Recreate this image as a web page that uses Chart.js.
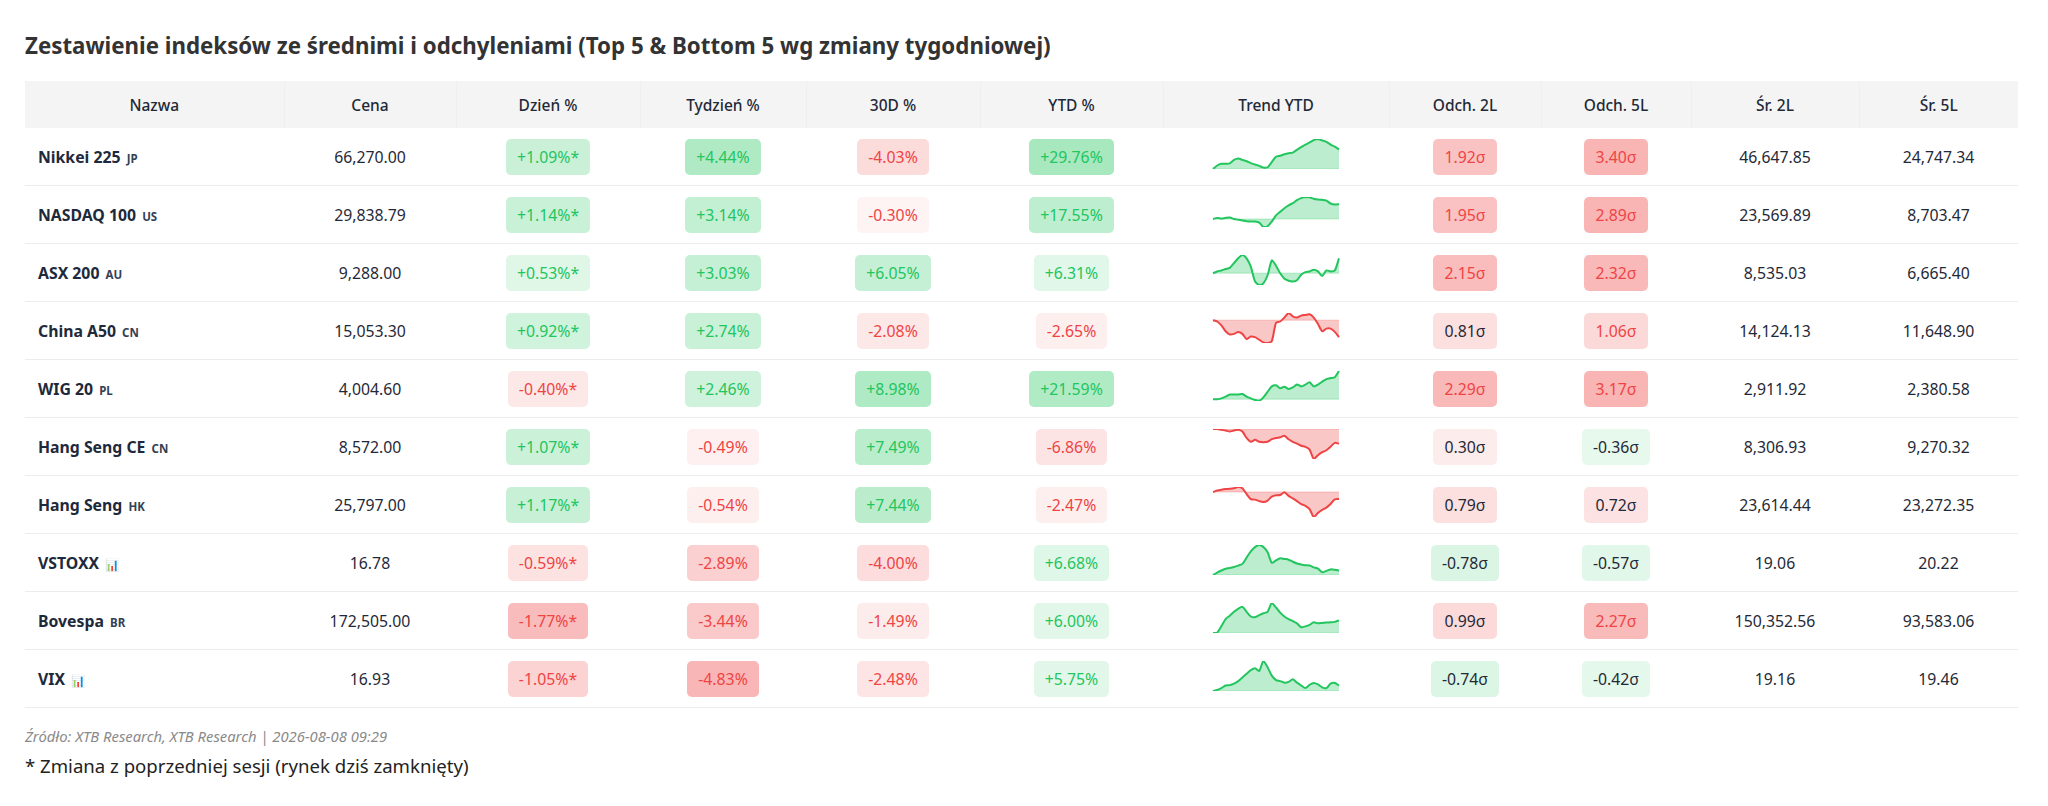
<!DOCTYPE html>
<html lang="pl">
<head>
<meta charset="utf-8">
<title>Zestawienie indeksów</title>
<script src="https://cdn.jsdelivr.net/npm/chart.js@4.4.1/dist/chart.umd.min.js"></script>
<style>
  html, body { margin: 0; background: #fff; }
  body { font-family: 'Segoe UI', 'Noto Sans', sans-serif; color: #1f2937; width: 2048px; }
  .wrap { padding: 31px 30px 0 25px; }
  h1 { margin: 0 0 20px 0; font-size: 22.3px; line-height: 30px; font-weight: 700; color: #333; }
  table { border-collapse: collapse; table-layout: fixed; width: 1993px; }
  th { background: #f4f4f4; height: 47px; padding: 0; font-size: 15.5px; font-weight: 500; color: #1f2937;
       text-align: center; border-right: 1px solid #efefef; }
  th:last-child { border-right: none; }
  td { height: 57px; padding: 0; font-size: 15.8px; text-align: center; border-bottom: 1px solid #ececec; color: #1f2937; }
  td.name { text-align: left; padding-left: 13px; font-weight: 700; color: #1e293b; }
  td.name small { font-size: 11.5px; font-weight: 700; color: #334155; margin-left: 2px; }
  .badge { display: inline-block; padding: 7px 11px; border-radius: 5px; line-height: 22px; font-weight: 400; }
  canvas.spark { display: block; margin: 0 auto; position: relative; top: -3px; }
  .src { margin-top: 18px; font-size: 14.8px; line-height: 20px; font-style: italic; color: #8a8a8a; }
  .note { margin-top: 8px; font-size: 18.6px; line-height: 24px; color: #222; }
</style>
</head>
<body>
<div class="wrap">
  <h1>Zestawienie indeksów ze średnimi i odchyleniami (Top 5 &amp; Bottom 5 wg zmiany tygodniowej)</h1>
  <table id="tbl">
    <colgroup id="cols"></colgroup>
    <thead><tr id="head"></tr></thead>
    <tbody id="body"></tbody>
  </table>
  <div class="src">Źródło: XTB Research, XTB Research | 2026-08-08 09:29</div>
  <div class="note">* Zmiana z poprzedniej sesji (rynek dziś zamknięty)</div>
</div>
<script>
// Columns
const headers = ['Nazwa', 'Cena', 'Dzień %', 'Tydzień %', '30D %', 'YTD %', 'Trend YTD', 'Odch. 2L', 'Odch. 5L', 'Śr. 2L', 'Śr. 5L'];
const colWidths = [259, 172, 184, 166, 174, 183, 226, 152, 150, 168, 159];

// Data
const names = ['Nikkei 225', 'NASDAQ 100', 'ASX 200', 'China A50', 'WIG 20', 'Hang Seng CE', 'Hang Seng', 'VSTOXX', 'Bovespa', 'VIX'];
const tags = ['JP', 'US', 'AU', 'CN', 'PL', 'CN', 'HK', '📊', 'BR', '📊'];
const prices = [66270.00, 29838.79, 9288.00, 15053.30, 4004.60, 8572.00, 25797.00, 16.78, 172505.00, 16.93];
const dayPct = [1.09, 1.14, 0.53, 0.92, -0.40, 1.07, 1.17, -0.59, -1.77, -1.05];
const prevSession = [true, true, true, true, true, true, true, true, true, true];
const weekPct = [4.44, 3.14, 3.03, 2.74, 2.46, -0.49, -0.54, -2.89, -3.44, -4.83];
const d30Pct = [-4.03, -0.30, 6.05, -2.08, 8.98, 7.49, 7.44, -4.00, -1.49, -2.48];
const ytdPct = [29.76, 17.55, 6.31, -2.65, 21.59, -6.86, -2.47, 6.68, 6.00, 5.75];
const dev2L = [1.92, 1.95, 2.15, 0.81, 2.29, 0.30, 0.79, -0.78, 0.99, -0.74];
const dev5L = [3.40, 2.89, 2.32, 1.06, 3.17, -0.36, 0.72, -0.57, 2.27, -0.42];
const avg2L = [46647.85, 23569.89, 8535.03, 14124.13, 2911.92, 8306.93, 23614.44, 19.06, 150352.56, 19.16];
const avg5L = [24747.34, 8703.47, 6665.40, 11648.90, 2380.58, 9270.32, 23272.35, 20.22, 93583.06, 19.46];

// YTD trend (% from start of year)
const trendNikkei = [0, 5.3, 8.0, 8.0, 8.5, 13.8, 15.9, 13.8, 11.7, 9.0, 6.9, 4.8, 2.1, 2.7, 10.6, 18.6, 20.1, 22.3, 23.9, 24.9, 29.2, 33.4, 37.1, 40.3, 44.0, 45.6, 43.5, 41.3, 37.1, 33.9, 29.7];
const trendNasdaq = [0, 1.3, 0.4, 1.3, 1.7, 0, -0.9, -1.7, -2.6, -3.0, -3.0, -4.3, -9.5, -8.6, -3.0, 4.3, 8.6, 12.9, 16.3, 18.9, 22.4, 24.9, 26.2, 25.8, 24.1, 23.2, 22.8, 21.9, 18.5, 17.2, 17.6];
const trendAsx = [0, 0.8, 1.2, 1.8, 2.3, 4.3, 6.3, 7.7, 6.3, 2.8, -3.4, -4.9, -4.2, -0.8, 5.4, 3.2, 0, -2.3, -3.1, -3.4, -2.9, -0.6, 0.5, 0.8, 1.5, 0.8, -1.1, 1.2, 0.8, 1.2, 6.3];
const trendChinaA50 = [0, -0.2, -0.8, -1.7, -2.2, -2.1, -1.8, -2.1, -2.9, -2.5, -2.6, -3.0, -3.4, -3.5, -3.2, -0.4, -0.2, 0.4, 1.1, 0.6, 0.4, 0.7, 0.8, 0.9, 0.4, -0.6, -1.7, -1.3, -1.3, -1.8, -2.6];
const trendWig20 = [0, 0, 0.6, 2.0, 3.6, 3.6, 3.6, 3.9, 2.0, 0.6, -0.6, -1.4, 1.4, 5.6, 9.8, 10.6, 8.4, 9.5, 7.8, 9.0, 11.2, 9.8, 11.2, 12.9, 9.8, 11.2, 13.4, 15.4, 16.2, 16.8, 21.6];
const trendHsce = [0, 0, -0.4, -0.7, -1.2, -0.7, -0.4, -1.2, -4.2, -6.0, -5.1, -6.0, -6.2, -6.0, -4.8, -4.2, -3.9, -3.2, -4.8, -6.0, -6.9, -7.9, -8.4, -9.7, -14.1, -12.3, -10.9, -10.0, -8.3, -6.5, -6.9];
const trendHangSeng = [0, 0.5, 0.8, 1.0, 1.1, 1.3, 1.7, 1.3, -0.7, -2.4, -2.6, -3.1, -3.4, -2.9, -1.6, -1.1, -1.0, -0.1, -1.3, -2.2, -3.1, -4.1, -4.7, -5.8, -8.5, -7.1, -6.1, -5.3, -4.1, -2.5, -2.4];
const trendVstoxx = [0, 3.6, 6.6, 9.2, 10.2, 11.7, 13.8, 16.3, 25.5, 34.7, 40.8, 43.9, 40.8, 33.2, 17.9, 21.4, 24.5, 23.5, 22.4, 19.4, 16.8, 15.3, 14.3, 13.8, 11.2, 9.2, 4.1, 6.1, 8.2, 7.7, 6.6];
const trendBovespa = [0, 0.2, 3.2, 6.5, 8.1, 9.9, 11.3, 12.2, 9.9, 7.7, 7.4, 8.3, 9.2, 9.9, 14.0, 11.9, 9.5, 7.7, 6.5, 5.6, 4.5, 2.7, 3.1, 3.8, 5.0, 4.5, 4.7, 4.9, 5.0, 5.2, 5.9];
const trendVix = [0, 1.1, 3.0, 5.7, 6.1, 7.6, 10.3, 14.1, 17.9, 21.7, 23.6, 20.9, 31.2, 24.7, 16.0, 11.4, 10.3, 8.7, 9.5, 12.2, 8.7, 5.7, 3.0, 6.5, 8.4, 6.8, 3.8, 3.0, 7.6, 8.4, 5.7];
const trends = [trendNikkei, trendNasdaq, trendAsx, trendChinaA50, trendWig20, trendHsce, trendHangSeng, trendVstoxx, trendBovespa, trendVix];

const GREEN = [34, 197, 94];
const RED = [239, 68, 68];

function rgba(c, a) { return 'rgba(' + c[0] + ',' + c[1] + ',' + c[2] + ',' + a + ')'; }
function fmtNum(v) { return v.toLocaleString('en-US', { minimumFractionDigits: 2, maximumFractionDigits: 2 }); }
function fmtPct(v) { return (v > 0 ? '+' : '') + v.toFixed(2) + '%'; }

// badge for % change, colour strength from magnitude
function pctBadge(v, scale, star) {
  const a = 0.05 + 0.35 * Math.min(Math.abs(v) / scale, 1);
  const c = v >= 0 ? GREEN : RED;
  return '<span class="badge" style="background:' + rgba(c, a.toFixed(3)) + ';color:' + rgba(c, 1) + '">' +
    fmtPct(v) + (star ? '*' : '') + '</span>';
}

function sigmaBadge(v) {
  const a = 0.06 + 0.34 * Math.min(Math.abs(v) / 2.5, 1);
  const c = v >= 0 ? RED : GREEN;
  let txt = '#1f2937';
  if (v >= 1) txt = rgba(RED, 1);
  if (v <= -1) txt = rgba(GREEN, 1);
  return '<span class="badge" style="background:' + rgba(c, a.toFixed(3)) + ';color:' + txt + '">' + v.toFixed(2) + 'σ</span>';
}

// header + columns
document.getElementById('cols').innerHTML = colWidths.map(w => '<col style="width:' + w + 'px">').join('');
document.getElementById('head').innerHTML = headers.map(h => '<th>' + h + '</th>').join('');

// rows
let html = '';
names.forEach((n, i) => {
  html += '<tr>' +
    '<td class="name">' + n + ' <small>' + tags[i] + '</small></td>' +
    '<td>' + fmtNum(prices[i]) + '</td>' +
    '<td>' + pctBadge(dayPct[i], 2, prevSession[i]) + '</td>' +
    '<td>' + pctBadge(weekPct[i], 5, false) + '</td>' +
    '<td>' + pctBadge(d30Pct[i], 10, false) + '</td>' +
    '<td>' + pctBadge(ytdPct[i], 25, false) + '</td>' +
    '<td><canvas class="spark" id="spark' + i + '" width="130" height="34"></canvas></td>' +
    '<td>' + sigmaBadge(dev2L[i]) + '</td>' +
    '<td>' + sigmaBadge(dev5L[i]) + '</td>' +
    '<td>' + fmtNum(avg2L[i]) + '</td>' +
    '<td>' + fmtNum(avg5L[i]) + '</td>' +
    '</tr>';
});
document.getElementById('body').innerHTML = html;

// Sparklines
trends.forEach((series, i) => {
  const up = series[series.length - 1] >= series[0];
  const c = up ? GREEN : RED;
  const ctx = document.getElementById('spark' + i).getContext('2d');
  new Chart(ctx, {
    type: 'line',
    data: {
      labels: series.map((_, k) => k),
      datasets: [
        {
          data: series,
          borderColor: rgba(c, 1),
          borderWidth: 2,
          backgroundColor: rgba(c, 0.3),
          fill: { value: series[0] },
          tension: 0.25,
          pointRadius: 0
        },
        {
          data: series.map(() => series[0]),
          borderColor: rgba(c, 0.18),
          borderWidth: 1.5,
          fill: false,
          pointRadius: 0
        }
      ]
    },
    options: {
      responsive: false,
      animation: false,
      layout: { padding: 2 },
      plugins: { legend: { display: false }, tooltip: { enabled: false } },
      scales: {
        x: { display: false },
        y: { display: false, min: Math.min(...series), max: Math.max(...series) }
      }
    }
  });
});
</script>
</body>
</html>
